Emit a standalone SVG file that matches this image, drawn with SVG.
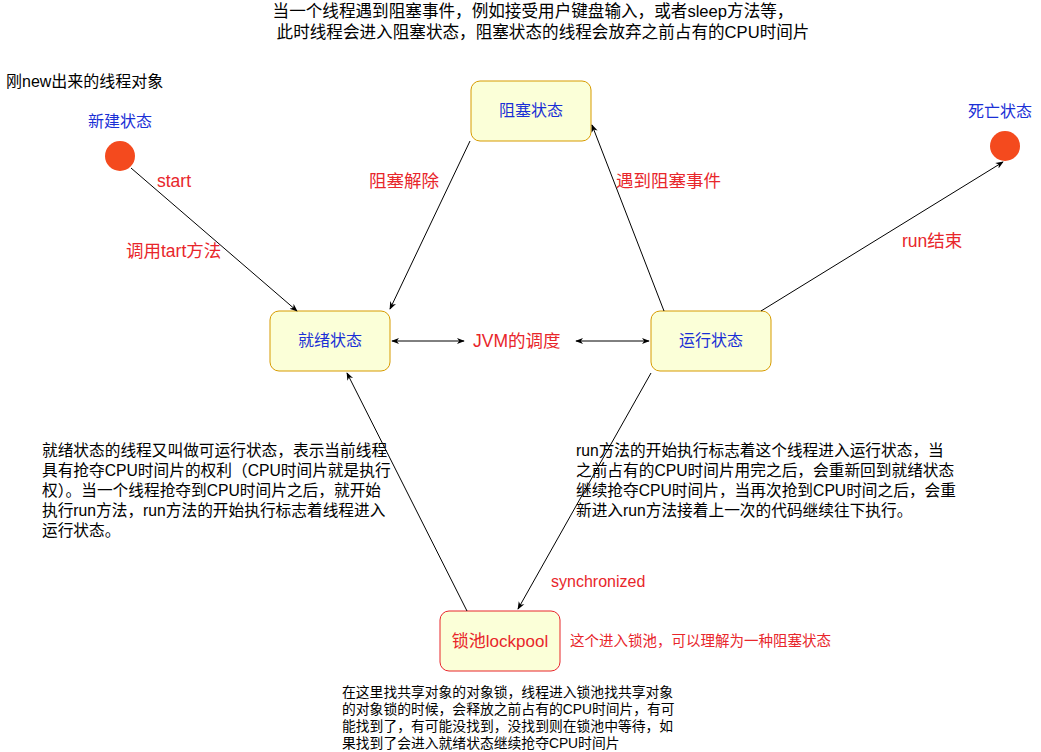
<svg xmlns="http://www.w3.org/2000/svg" width="1041" height="752" viewBox="0 0 1041 752">
<style>
text{font-family:"Liberation Sans","Noto Sans CJK SC",sans-serif}
.box{fill:#fbffd8;stroke:#d79b00;stroke-width:1}
.bt{fill:#1a2fd6;font-size:16px;text-anchor:middle}
.red{fill:#e8262b;font-size:17.5px}
.p{fill:#000;font-size:15.7px}
.c{stroke:#000;stroke-width:1;fill:none;marker-end:url(#a)}
.b{marker-start:url(#a)}
</style>
<defs><marker id="a" viewBox="0 0 10 10" refX="9" refY="5" markerWidth="8" markerHeight="8" orient="auto-start-reverse"><path d="M0,1 L10,5 L0,9 L3,5 Z" fill="#000"/></marker></defs>
<text x="533" y="17" font-size="16.6" text-anchor="middle">当一个线程遇到阻塞事件，例如接受用户键盘输入，或者sleep方法等，</text>
<text x="543" y="38" font-size="16.6" text-anchor="middle">此时线程会进入阻塞状态，阻塞状态的线程会放弃之前占有的CPU时间片</text>
<text x="6" y="87" font-size="16">刚new出来的线程对象</text>
<g id="new"><text x="120" y="127" class="bt">新建状态</text><circle cx="120" cy="156" r="15" fill="#f44a1e"/></g>
<g id="dead"><text x="1000" y="117" class="bt">死亡状态</text><circle cx="1005" cy="146" r="15" fill="#f44a1e"/></g>
<g id="block"><rect class="box" x="471" y="81" width="120" height="60" rx="9"/><text x="531" y="116" class="bt">阻塞状态</text></g>
<g id="ready"><rect class="box" x="270" y="311" width="120" height="60" rx="9"/><text x="330" y="346" class="bt">就绪状态</text></g>
<g id="run"><rect class="box" x="651" y="311" width="120" height="60" rx="9"/><text x="711" y="346" class="bt">运行状态</text></g>
<g id="pool"><rect x="440" y="611" width="120" height="60" rx="9" fill="#fbffd8" stroke="#e8262b"/><text x="500" y="647" font-size="17" fill="#e8262b" text-anchor="middle">锁池lockpool</text></g>
<g id="connectors">
<line class="c" x1="131" y1="168" x2="297" y2="311"/>
<line class="c" x1="470" y1="141" x2="390" y2="309"/>
<line class="c" x1="664" y1="311" x2="592" y2="125"/>
<line class="c" x1="761" y1="311" x2="1003" y2="162"/>
<line class="c b" x1="464" y1="341" x2="392" y2="341"/>
<line class="c b" x1="576" y1="341" x2="649" y2="341"/>
<line class="c" x1="467" y1="611" x2="347" y2="373"/>
<line class="c" x1="651" y1="373" x2="518" y2="609"/>
</g>
<text x="157" y="187" class="red">start</text>
<text x="126" y="257" class="red">调用tart方法</text>
<text x="369" y="187" class="red">阻塞解除</text>
<text x="616" y="187" class="red">遇到阻塞事件</text>
<text x="902" y="247" class="red">run结束</text>
<text x="473" y="347" class="red">JVM的调度</text>
<text x="551" y="587" font-size="16" fill="#e8262b">synchronized</text>
<text x="570" y="646" font-size="14.5" fill="#e8262b">这个进入锁池，可以理解为一种阻塞状态</text>
<g class="p">
<text x="42" y="456">就绪状态的线程又叫做可运行状态，表示当前线程</text>
<text x="42" y="476">具有抢夺CPU时间片的权利（CPU时间片就是执行</text>
<text x="42" y="496">权）。当一个线程抢夺到CPU时间片之后，就开始</text>
<text x="42" y="516">执行run方法，run方法的开始执行标志着线程进入</text>
<text x="42" y="536">运行状态。</text>
<text x="576" y="456">run方法的开始执行标志着这个线程进入运行状态，当</text>
<text x="576" y="476">之前占有的CPU时间片用完之后，会重新回到就绪状态</text>
<text x="576" y="496">继续抢夺CPU时间片，当再次抢到CPU时间之后，会重</text>
<text x="576" y="516">新进入run方法接着上一次的代码继续往下执行。</text>
</g>
<g font-size="13.8">
<text x="342" y="697">在这里找共享对象的对象锁，线程进入锁池找共享对象</text>
<text x="342" y="714">的对象锁的时候，会释放之前占有的CPU时间片，有可</text>
<text x="342" y="731">能找到了，有可能没找到，没找到则在锁池中等待，如</text>
<text x="342" y="748">果找到了会进入就绪状态继续抢夺CPU时间片</text>
</g>
</svg>
